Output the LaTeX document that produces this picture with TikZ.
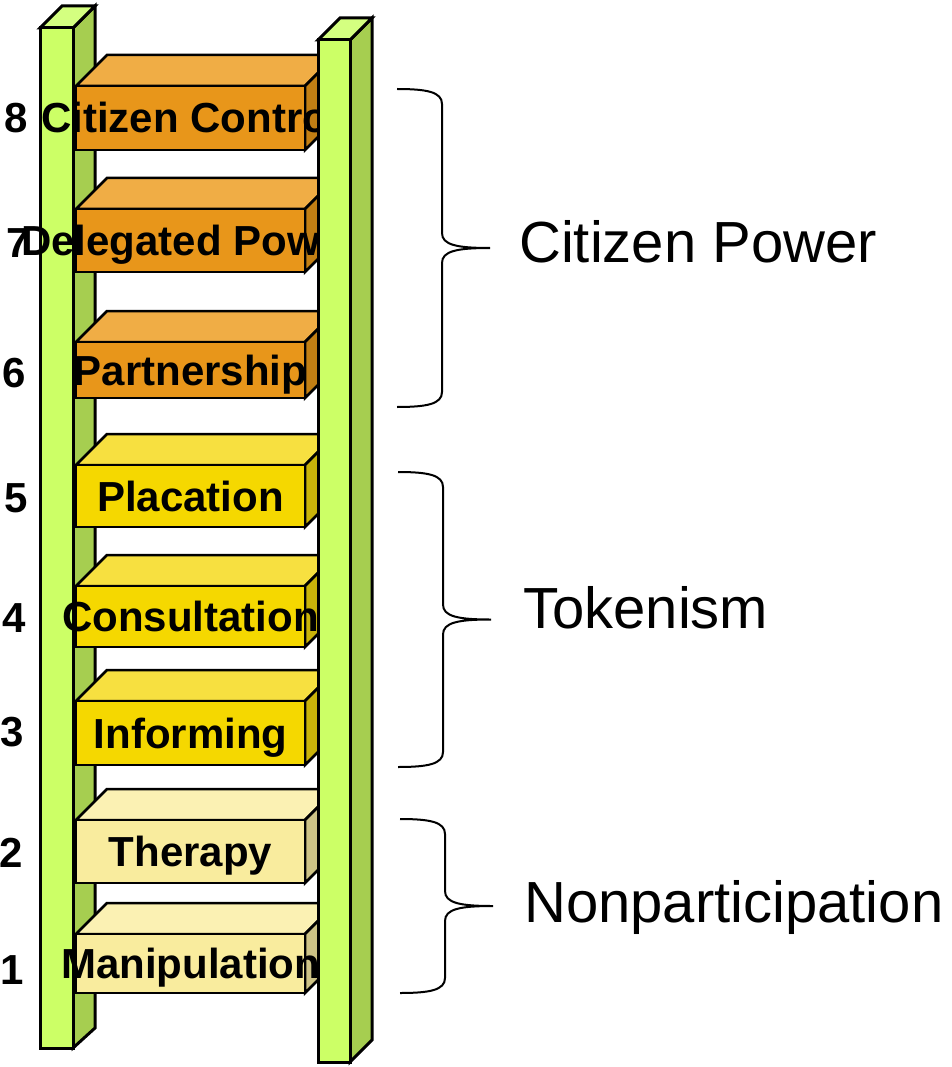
\documentclass[tikz,border=0pt]{standalone}
\usepackage{fontspec}
\setmainfont{Liberation Sans}
\usepackage{tikz}

\definecolor{railF}{HTML}{CCFF66}
\definecolor{railS}{HTML}{A6CE50}
\definecolor{railT}{HTML}{D4FF80}
\definecolor{orangeT}{HTML}{F0AD45}
\definecolor{orangeF}{HTML}{E8961A}
\definecolor{orangeS}{HTML}{C27F14}
\definecolor{yellowT}{HTML}{F7E040}
\definecolor{yellowF}{HTML}{F5D800}
\definecolor{yellowS}{HTML}{C9B30A}
\definecolor{paleT}{HTML}{FBF1B3}
\definecolor{paleF}{HTML}{F9EC9E}
\definecolor{paleS}{HTML}{CDC386}

\tikzset{
	rail/.style={draw=black, line width=3pt},
	stepedge/.style={draw=black, line width=2.5pt},
	steplabel/.style={inner sep=0pt, anchor=base, font=\fontsize{42}{48}\selectfont\bfseries},
	numlabel/.style={inner sep=0pt, anchor=base west, font=\fontsize{42}{48}\selectfont\bfseries},
	grouplabel/.style={inner sep=0pt, anchor=base west, font=\fontsize{58}{64}\selectfont},
	bracestroke/.style={draw=black, line width=2pt}
}

% brace: tip name, top y, bottom y, left x
\newcommand{\groupbrace}[4]{
	\coordinate (#1) at ({#4+93},{(#2+#3)/2});
	\draw [bracestroke] (#4,#2) .. controls ({#4+30},#2) and ({#4+45},{#2+3}) .. ({#4+45},{#2+15})
		-- ({#4+45},{(#2+#3)/2-15}) .. controls ({#4+45},{(#2+#3)/2-3}) and ({#4+60},{(#2+#3)/2}) .. (#1)
		.. controls ({#4+60},{(#2+#3)/2}) and ({#4+45},{(#2+#3)/2+3}) .. ({#4+45},{(#2+#3)/2+15})
		-- ({#4+45},{#3-15}) .. controls ({#4+45},{#3-3}) and ({#4+30},#3) .. (#4,#3);
}

\begin{document}
\begin{tikzpicture}[x=1pt, y=-1pt]
	\useasboundingbox (0,0) rectangle (951,1067);

	% rung numbers
	\foreach \num/\nx/\ny in {8/4/133, 7/6/258, 6/2/387, 5/4/512, 4/2/632, 3/0/746, 2/-1/867, 1/0/984}
		\node [numlabel] (n\num) at (\nx,\ny) {\num};

	% left rail
	\draw [rail, fill=railS] (73,28) -- (95,6) -- (95,1028) -- (73,1048) -- cycle;
	\draw [rail, fill=railT] (40,28) -- (62,6) -- (95,6) -- (73,28) -- cycle;
	\draw [rail, fill=railF] (40,28) rectangle (73,1048);

	% rungs
	\foreach \ya/\yb/\tone/\lbl/\num in {
		86/150/orange/Citizen Control/8,
		209/272/orange/Delegated Power/7,
		342/398/orange/Partnership/6,
		465/527/yellow/Placation/5,
		586/647/yellow/Consultation/4,
		701/765/yellow/Informing/3,
		820/883/pale/Therapy/2,
		934/993/pale/Manipulation/1}
	{
		\draw [stepedge, fill=\tone T] (76,\ya) -- (107,\ya-31) -- (336,\ya-31) -- (305,\ya) -- cycle;
		\draw [stepedge, fill=\tone S] (305,\ya) -- (336,\ya-31) -- (336,\yb-31) -- (305,\yb) -- cycle;
		\draw [stepedge, fill=\tone F] (76,\ya) rectangle (305,\yb);
		\node [steplabel] (s\num) at (190.5,{(\ya+\yb)/2+15}) {\lbl};
	}

	% right rail
	\draw [rail, fill=railS] (350,40) -- (372,18) -- (372,1040) -- (350,1062) -- cycle;
	\draw [rail, fill=railT] (318,40) -- (340,18) -- (372,18) -- (350,40) -- cycle;
	\draw [rail, fill=railF] (318,40) rectangle (350,1062);

	% groups
	\groupbrace{powertip}{89}{407}{397}
	\groupbrace{tokentip}{472}{767}{398}
	\groupbrace{nontip}{819}{993}{400}
	\node [grouplabel] (power) at (519,262) {Citizen Power};
	\node [grouplabel] (token) at (523,628) {Tokenism};
	\node [grouplabel] (nonpart) at (524,922) {Nonparticipation};
\end{tikzpicture}
\end{document}
